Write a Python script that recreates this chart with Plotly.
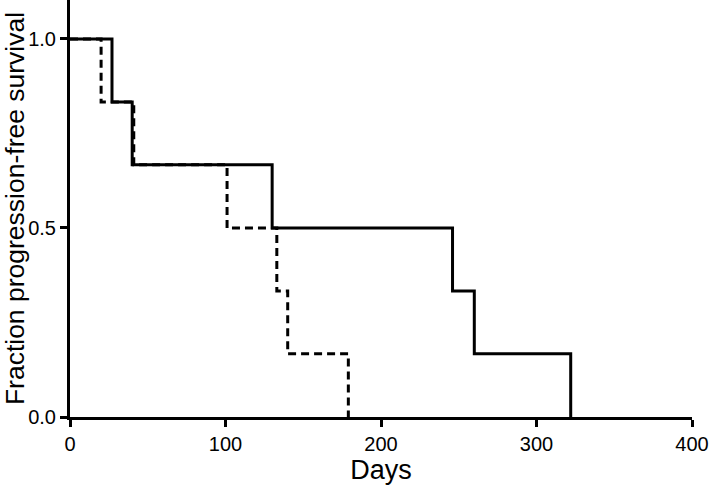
import plotly.graph_objects as go

# Kaplan-Meier steps
days_solid = [0, 27, 40, 130, 246, 260, 322]
surv_solid = [1.0, 0.833, 0.667, 0.5, 0.333, 0.167, 0.0]

days_dashed = [0, 20, 41, 101, 133, 140, 179]
surv_dashed = [1.0, 0.833, 0.667, 0.5, 0.333, 0.167, 0.0]

x_ticks = [0, 100, 200, 300, 400]
y_ticks = [0.0, 0.5, 1.0]

fig = go.Figure()
fig.add_trace(go.Scatter(
    x=days_dashed, y=surv_dashed,
    mode="lines", line_shape="hv",
    line=dict(color="black", width=3, dash="8px,5px"),
    showlegend=False,
))
fig.add_trace(go.Scatter(
    x=days_solid, y=surv_solid,
    mode="lines", line_shape="hv",
    line=dict(color="black", width=3),
    showlegend=False,
))

fig.update_layout(
    width=709, height=485,
    font=dict(family="Liberation Sans, Arial, sans-serif", size=20, color="black"),
    plot_bgcolor="white",
    paper_bgcolor="white",
    margin=dict(l=70, r=17, t=0, b=68),
)
fig.update_xaxes(
    range=[0, 400], tickvals=x_ticks,
    showgrid=False, zeroline=False,
    showline=True, linecolor="black", linewidth=3,
    ticks="outside", ticklen=7, tickwidth=3, tickcolor="black",
    title=dict(text="Days", font=dict(size=27), standoff=6),
)
fig.update_yaxes(
    range=[0, 1.103], tickvals=y_ticks, tickformat=".1f",
    showgrid=False, zeroline=False,
    showline=True, linecolor="black", linewidth=3,
    ticks="outside", ticklen=7, tickwidth=3, tickcolor="black",
    title=dict(text="Fraction progression-free survival", font=dict(size=26.5), standoff=4),
)

# the page body has a default 8px margin; drop it so the figure sits at (0, 0)
fig.write_html(
    "out.html",
    config={"displayModeBar": False},
    post_script="document.body.style.margin='0';",
)
